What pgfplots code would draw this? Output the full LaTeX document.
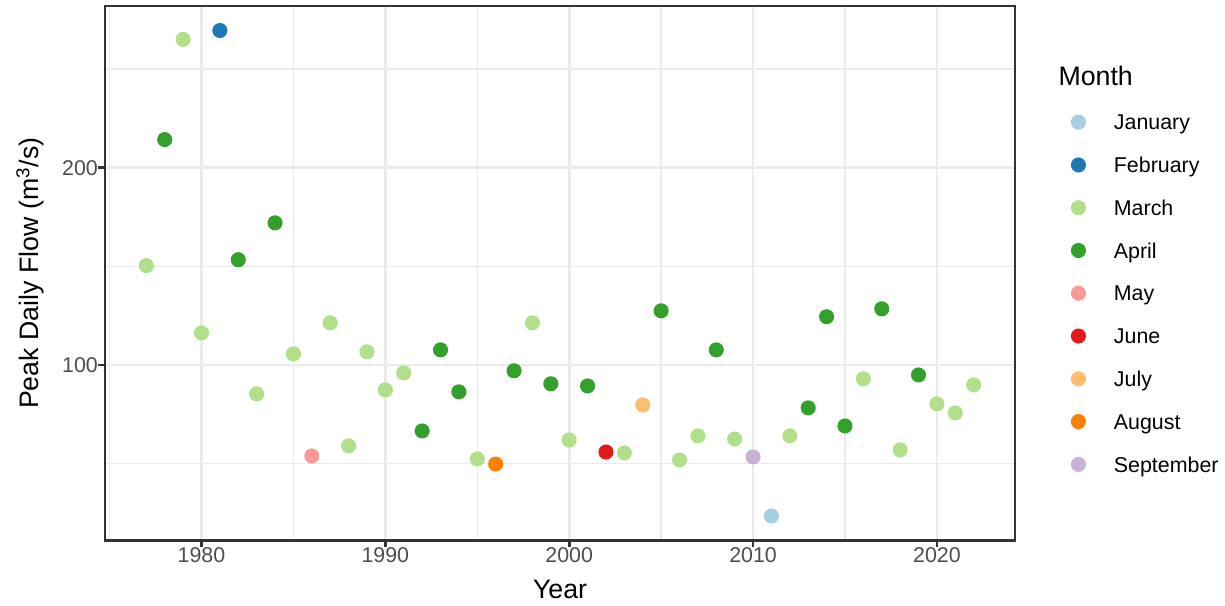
\documentclass[border=0pt]{standalone}
\usepackage{pgfplots}
\pgfplotsset{compat=1.18}
\usepackage{fontspec}
\setmainfont{Liberation Sans}
\definecolor{cJan}{HTML}{A6CEE3}
\definecolor{cFeb}{HTML}{1F78B4}
\definecolor{cMar}{HTML}{B2DF8A}
\definecolor{cApr}{HTML}{33A02C}
\definecolor{cMay}{HTML}{FB9A99}
\definecolor{cJun}{HTML}{E31A1C}
\definecolor{cJul}{HTML}{FDBF6F}
\definecolor{cAug}{HTML}{FF7F00}
\definecolor{cSep}{HTML}{CAB2D6}
\definecolor{gridc}{HTML}{EBEBEB}
\definecolor{grey20}{HTML}{333333}
\definecolor{grey30}{HTML}{4D4D4D}
\begin{document}
\begin{tikzpicture}
\begin{axis}[
  at={(0,0)}, anchor=south west,
  scale only axis, width=374.5pt, height=219.8pt,
  clip=false,
  xmin=1974.75, xmax=2024.25, ymin=11.1, ymax=281.9,
  xtick={1980,1990,2000,2010,2020},
  ytick={100,200},
  minor xtick={1975,1985,1995,2005,2015},
  minor ytick={50,150,250},
  grid=both,
  major grid style={draw=gridc, line width=1.07pt},
  minor grid style={draw=gridc, line width=0.53pt},
  axis line style={draw=grey20, line width=1.07pt},
  tick pos=left, tick align=outside,
  major tick length=2.75pt, minor tick length=0pt,
  every tick/.style={draw=grey20, line width=1.07pt},
  /pgf/number format/1000 sep={},
  /pgf/number format/assume math mode=true,
  ticklabel style={font=\fontsize{8.8}{10}\selectfont, text=grey30, inner sep=0pt, text height=6.3pt, text depth=0pt},
  xticklabel style={anchor=north},
  yticklabel style={anchor=east},
  xlabel={Year},
  ylabel={Peak Daily Flow (m\textsuperscript{3}/s)},
  label style={font=\fontsize{11}{13}\selectfont, inner sep=0pt},
  xlabel style={at={(axis description cs:0.5,-0.1087)}, anchor=base},
  ylabel style={at={(axis description cs:-0.0726,0.5)}, anchor=base},
  legend style={at={(axis description cs:1.0614,0.7969)}, anchor=north west,
    draw=none, fill=none, inner sep=0pt, outer sep=0pt,
    font=\fontsize{8.8}{10}\selectfont, row sep=11.3pt, column sep=11.5pt,
    nodes={inner sep=0pt, text height=6.3pt, text depth=0pt, anchor=base west}},
  legend cell align=left,
  legend image code/.code={\fill[#1] (2.9pt,3.15pt) circle (2.9pt);},
  every axis plot/.append style={only marks, mark=*, mark size=2.9pt, mark options={draw=none}},
]
\addplot[color=cJan] coordinates {(2011,23.4)};
\addlegendentry{January}
\addplot[color=cFeb] coordinates {(1981,269.5)};
\addlegendentry{February}
\addplot[color=cMar] coordinates {
(1977,150.3) (1979,265.0) (1980,116.2) (1983,85.3) (1985,105.6) (1987,121.3)
(1988,58.9) (1989,106.6) (1990,87.3) (1991,95.9) (1995,52.3) (1998,121.3)
(2000,61.9) (2003,55.3) (2006,51.8) (2007,64.0) (2009,62.4) (2012,64.0)
(2016,92.9) (2018,56.9) (2020,80.2) (2021,75.6) (2022,89.8)};
\addlegendentry{March}
\addplot[color=cApr] coordinates {
(1978,214.2) (1982,153.3) (1984,172.0) (1992,66.5) (1993,107.6) (1994,86.3)
(1997,97.0) (1999,90.4) (2001,89.3) (2005,127.4) (2008,107.6) (2013,78.2)
(2014,124.4) (2015,69.0) (2017,128.4) (2019,94.9)};
\addlegendentry{April}
\addplot[color=cMay] coordinates {(1986,53.8)};
\addlegendentry{May}
\addplot[color=cJun] coordinates {(2002,55.8)};
\addlegendentry{June}
\addplot[color=cJul] coordinates {(2004,79.7)};
\addlegendentry{July}
\addplot[color=cAug] coordinates {(1996,49.7)};
\addlegendentry{August}
\addplot[color=cSep] coordinates {(2010,53.3)};
\addlegendentry{September}
\node[anchor=base west, inner sep=0pt, font=\fontsize{11}{13}\selectfont] at (axis description cs:1.0473,0.8517) {Month};
\end{axis}
\pgfresetboundingbox
\useasboundingbox (-43.2pt,-26.7pt) rectangle (460.9pt,222.3pt);
\end{tikzpicture}
\end{document}
